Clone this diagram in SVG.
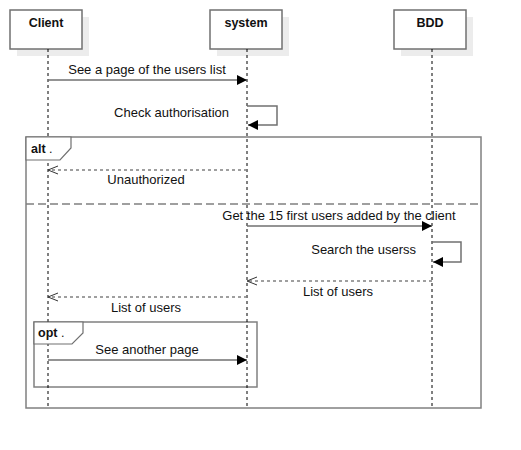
<svg xmlns="http://www.w3.org/2000/svg" width="521" height="450" viewBox="0 0 521 450">
<defs>
<marker id="fill" markerWidth="11" markerHeight="10" refX="10" refY="5" orient="auto" markerUnits="userSpaceOnUse">
<path d="M0,0 L10,5 L0,10 Z" fill="#000"/>
</marker>
<marker id="open" markerWidth="11" markerHeight="10" refX="10" refY="5" orient="auto" markerUnits="userSpaceOnUse">
<path d="M0,1 L10,5 L0,9" fill="none" stroke="#333" stroke-width="1"/>
</marker>
</defs>
<style>
text{font-family:"Liberation Sans",Arial,sans-serif;font-size:13px;fill:#111}
.hd{font-weight:bold;text-anchor:middle;font-size:12.5px}
.shadow{fill:#ececec}
.box{fill:#fff;stroke:#707070;stroke-width:1.5}
.life{stroke:#000;stroke-width:1;stroke-dasharray:3,3;fill:none}
.frame{fill:none;stroke:#808080;stroke-width:1.5}
.tab{fill:#fff;stroke:#707070;stroke-width:1.2}
.msg{stroke:#707070;stroke-width:1.5;fill:none;marker-end:url(#fill)}
.ret{stroke:#808080;stroke-width:1.5;fill:none;stroke-dasharray:3,3;marker-end:url(#open)}
.mid{text-anchor:middle}
.end{text-anchor:end}
.lbl{font-size:12.5px}
</style>
<rect width="521" height="450" fill="#fff"/>
<g id="frames">
<rect class="frame" x="26" y="137" width="455" height="271"/>
<line x1="26" y1="204" x2="481" y2="204" stroke="#808080" stroke-width="1.5" stroke-dasharray="8,4"/>
<rect class="frame" x="34" y="322" width="223" height="65"/>
</g>
<g id="Client">
<rect class="shadow" x="17" y="17" width="72" height="39"/>
<rect class="box" x="10" y="10" width="72" height="39"/>
<text class="hd" x="46" y="27">Client</text>
<line class="life" x1="48" y1="49" x2="48" y2="408"/>
</g>
<g id="system">
<rect class="shadow" x="217" y="17" width="72" height="39"/>
<rect class="box" x="210" y="10" width="72" height="39"/>
<text class="hd" x="246" y="27">system</text>
<line class="life" x1="247" y1="49" x2="247" y2="408"/>
</g>
<g id="BDD">
<rect class="shadow" x="401" y="17" width="72" height="39"/>
<rect class="box" x="394" y="10" width="72" height="39"/>
<text class="hd" x="430" y="27">BDD</text>
<line class="life" x1="432" y1="49" x2="432" y2="408"/>
</g>
<g id="alt">
<path class="tab" d="M26,137 H71 V148 L60,160 H26 Z"/>
<text class="lbl" x="31" y="153"><tspan font-weight="bold">alt</tspan> .</text>
</g>
<g id="opt">
<path class="tab" d="M34,322 H83 V333 L72,344 H34 Z"/>
<text class="lbl" x="38" y="337"><tspan font-weight="bold">opt</tspan> .</text>
</g>
<g id="connectors">
<line class="msg" x1="48" y1="80" x2="247" y2="80"/>
<text class="mid" x="147" y="74">See a page of the users list</text>
<path class="msg" d="M247,106 H277 V125 H248"/>
<text class="end" x="229" y="117">Check authorisation</text>
<line class="ret" x1="247" y1="170" x2="48" y2="170"/>
<text class="mid" x="146" y="184">Unauthorized</text>
<line class="msg" x1="247" y1="226" x2="432" y2="226"/>
<text class="mid" x="339" y="220">Get the 15 first users added by the client</text>
<path class="msg" d="M432,242 H461 V262 H433"/>
<text class="end" x="416" y="254">Search the userss</text>
<line class="ret" x1="432" y1="281" x2="247" y2="281"/>
<text class="mid" x="338" y="296">List of users</text>
<line class="ret" x1="247" y1="297" x2="48" y2="297"/>
<text class="mid" x="146" y="312">List of users</text>
<line class="msg" x1="48" y1="360" x2="247" y2="360"/>
<text class="mid" x="147" y="354">See another page</text>
</g>
</svg>
